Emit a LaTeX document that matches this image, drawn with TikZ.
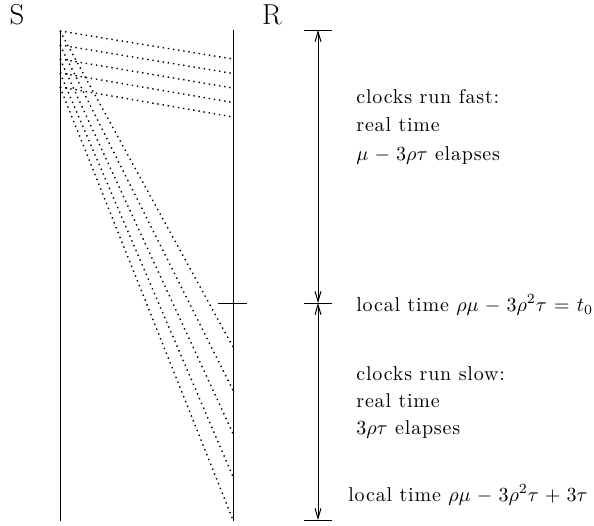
\documentclass[tikz,border=0pt]{standalone}
\usepackage{fontspec}
\setmainfont{Latin Modern Roman}[LetterSpace=4]
\usetikzlibrary{arrows.meta}
\begin{document}
\begin{tikzpicture}[
    x=0.5pt, y=-0.5pt,
    every node/.style={inner sep=0pt, execute at begin node={\medmuskip=5.5mu\thickmuskip=6.5mu}},
    msg/.style={line width=0.7pt, dash pattern=on 0.7pt off 1.9pt},
    axis/.style={line width=0.5pt},
    dim/.style={{Straight Barb[length=5pt,width=3pt]}-{Straight Barb[length=5pt,width=3pt]}, line width=0.5pt},
    lbl/.style={anchor=base west}
]
\useasboundingbox (0,0) rectangle (594,525);

% Processes
\node (S) [anchor=base] at (17,24) {\Large S};
\node (R) [anchor=base] at (272,24) {\Large R};
\coordinate (Stop) at (60,30);
\coordinate (Sbot) at (60,521);
\coordinate (Rtop) at (233,30);
\coordinate (Rbot) at (233,521);
\draw[axis] (Stop) -- (Sbot);
\draw[axis] (Rtop) -- (Rbot);

% Messages sent from S
\foreach \i in {0,...,4} {
  \coordinate (s\i) at (60,31+14*\i);
  \coordinate (f\i) at (233,59+14.5*\i);
  \coordinate (w\i) at (233,347+43.25*\i);
  \draw[msg] (s\i) -- (f\i);
  \draw[msg] (s\i) -- (w\i);
}

% t_0 on R
\coordinate (t0) at (233,303);
\draw[axis] ([xshift=-7.5pt]t0) -- ([xshift=7pt]t0);

% Time axis
\coordinate (dtop) at (318,30);
\coordinate (dmid) at (318,303);
\coordinate (dbot) at (318,520);
\draw[axis] ([xshift=-7pt]dtop) -- ([xshift=7pt]dtop);
\draw[axis] ([xshift=-7pt]dmid) -- ([xshift=7pt]dmid);
\draw[axis] ([xshift=-7pt]dbot) -- ([xshift=7pt]dbot);
\draw[dim] (dtop) -- (dmid);
\draw[dim] (dmid) -- (dbot);

% Labels
\node (fast1) [lbl] at (356,103) {clocks run fast:};
\node (fast2) [lbl] at (356,131) {real time};
\node (fast3) [lbl] at (356,160) {$\mu - 3\rho\tau$ elapses};
\node (tzero) [lbl] at (356,311) {local time $\rho\mu - 3\rho^2\tau = t_0$};
\node (slow1) [lbl] at (356,380) {clocks run slow:};
\node (slow2) [lbl] at (356,407) {real time};
\node (slow3) [lbl] at (356,434) {$3\rho\tau$ elapses};
\node (tend) [lbl] at (348,501) {local time $\rho\mu - 3\rho^2\tau + 3\tau$};

\end{tikzpicture}
\end{document}
